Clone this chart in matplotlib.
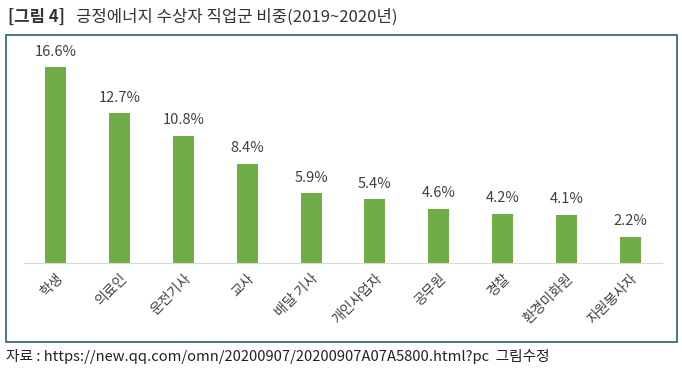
import matplotlib.pyplot as plt
from matplotlib.patches import Rectangle

plt.rcParams['font.family'] = ['Noto Sans CJK KR', 'DejaVu Sans']

# 직업군 비중 (%)
jobs = ['학생', '의료인', '운전기사', '교사', '배달 기사', '개인사업자', '공무원', '경찰', '환경미화원', '자원봉사자']
shares = [16.6, 12.7, 10.8, 8.4, 5.9, 5.4, 4.6, 4.2, 4.1, 2.2]

fig = plt.figure(figsize=(6.82, 3.87), dpi=100)
W, H = 682, 387

# outer frame around the chart
fig.patches.append(Rectangle((6 / W, 1 - 342 / H), 671 / W, 307 / H, transform=fig.transFigure,
                             fill=False, edgecolor='#2c5f73', linewidth=1.2))

ax = fig.add_axes([24 / W, 1 - 263 / H, 638 / W, 218 / H])
x = range(len(jobs))
ax.bar(x, shares, width=0.33, color='#70ad47')
for i, v in zip(x, shares):
    ax.text(i, v + 0.75, f'{v}%', ha='center', va='bottom', fontsize=10.5, color='#404040',
            fontweight='light')

ax.set_xlim(-0.5, len(jobs) - 0.5)
ax.set_ylim(0, 18.5)
ax.set_yticks([])
ax.set_xticks(list(x))
ax.set_xticklabels(jobs, rotation=45, ha='right', rotation_mode='anchor', fontsize=10, color='#404040')
ax.tick_params(axis='x', length=0, pad=6)
for s in ['top', 'right', 'left']:
    ax.spines[s].set_visible(False)
ax.spines['bottom'].set_color('#d9d9d9')

fig.text(8 / W, 1 - 17 / H, '[그림 4]', fontsize=12, fontweight='bold', color='#333333', va='center')
fig.text(76 / W, 1 - 17 / H, '긍정에너지 수상자 직업군 비중(2019~2020년)', fontsize=12, color='#333333', va='center')
fig.text(6 / W, 1 - 357 / H, '자료 : https://new.qq.com/omn/20200907/20200907A07A5800.html?pc  그림수정',
         fontsize=10.6, color='#222222', va='center')

fig.savefig('out.png', dpi=100)
